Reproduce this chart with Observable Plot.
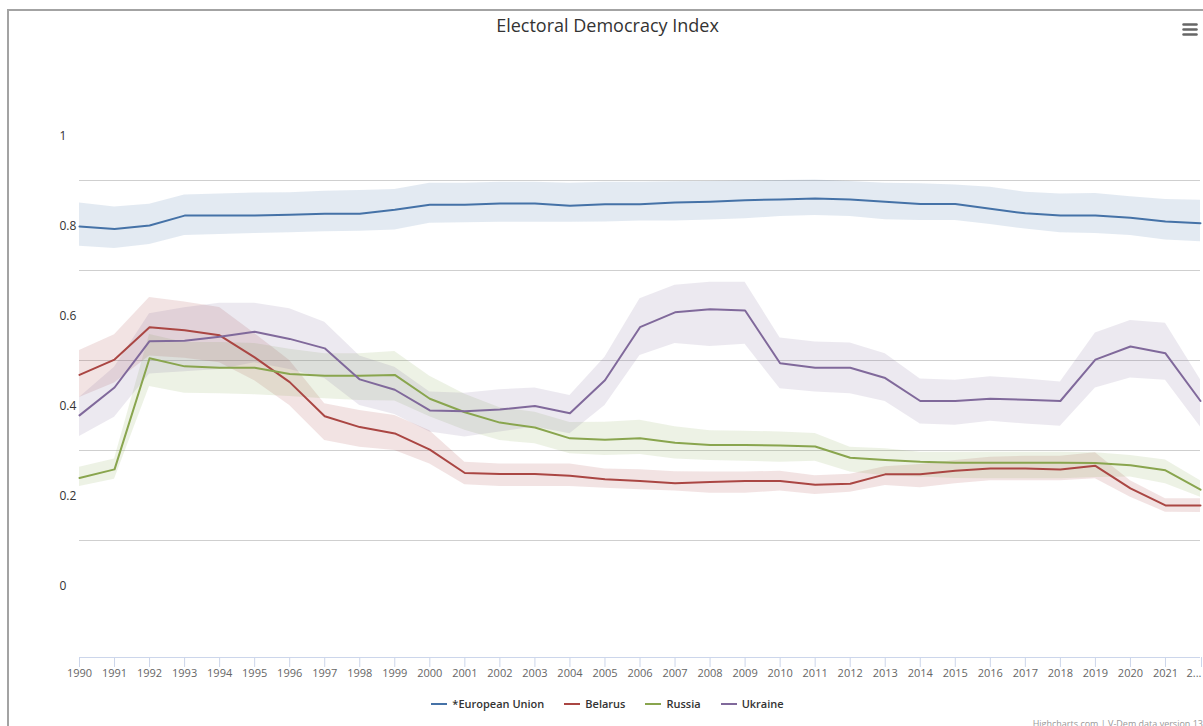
<!DOCTYPE html>
<html>
<head>
<meta charset="utf-8">
<script src="https://cdn.jsdelivr.net/npm/d3@7"></script>
<script src="https://cdn.jsdelivr.net/npm/@observablehq/plot@0.6"></script>
<style>
  html, body { margin: 0; padding: 0; background: #fff; }
  body { position: relative; width: 1203px; height: 726px; overflow: hidden; font-family: "Open Sans", "DejaVu Sans", sans-serif; }
  #frame { position: absolute; left: 7px; top: 9px; width: 1230px; height: 800px; border: 2px solid #a3a3a3; box-sizing: border-box; }
  #title { position: absolute; left: 0; top: 12px; width: 1215px; text-align: center; font-size: 18px; line-height: 26px; color: #333; }
  #menu { position: absolute; left: 1182px; top: 23px; width: 16px; height: 14px; }
  #chart { position: absolute; left: 0; top: 45px; }
  #legend { position: absolute; left: 0; top: 694px; width: 1215px; display: flex; justify-content: center; gap: 20px; font-size: 11px; font-weight: 600; line-height: 20px; color: #333; }
  #legend .item { display: flex; align-items: center; }
  #legend .sym { width: 16px; height: 2px; margin-right: 5px; }
  #credits { position: absolute; left: 0; top: 718px; width: 1203px; text-align: right; font-size: 9px; line-height: 12px; color: #999; }
</style>
</head>
<body>
<div id="frame"></div>
<div id="title">Electoral Democracy Index</div>
<svg id="menu" width="16" height="14"><g stroke="#666" stroke-width="2.5" stroke-linecap="round"><line x1="1.5" y1="1.5" x2="14.5" y2="1.5"/><line x1="1.5" y1="6.5" x2="14.5" y2="6.5"/><line x1="1.5" y1="11.5" x2="14.5" y2="11.5"/></g></svg>
<div id="chart"></div>
<div id="legend"></div>
<div id="credits">Highcharts.com | V-Dem data version 13</div>
<script>
const years = [1990,1991,1992,1993,1994,1995,1996,1997,1998,1999,2000,2001,2002,2003,2004,2005,2006,2007,2008,2009,2010,2011,2012,2013,2014,2015,2016,2017,2018,2019,2020,2021,2022];
const xTickLabels = ["1990","1991","1992","1993","1994","1995","1996","1997","1998","1999","2000","2001","2002","2003","2004","2005","2006","2007","2008","2009","2010","2011","2012","2013","2014","2015","2016","2017","2018","2019","2020","2021","2..."];
const yTickValues = [0, 0.2, 0.4, 0.6, 0.8, 1];
const yTickLabels = ["0", "0.2", "0.4", "0.6", "0.8", "1"];
const gridValues = [0.1, 0.3, 0.5, 0.7, 0.9];

const seriesNames = ["*European Union", "Belarus", "Russia", "Ukraine"];
const seriesColors = ["#4572A7", "#AA4643", "#89A54E", "#80699B"];

const euValue = [0.798,0.792,0.800,0.822,0.822,0.822,0.824,0.826,0.826,0.835,0.846,0.846,0.849,0.849,0.844,0.847,0.847,0.851,0.853,0.856,0.858,0.860,0.858,0.853,0.848,0.848,0.837,0.827,0.822,0.822,0.817,0.809,0.805];
const euLow   = [0.754,0.749,0.758,0.778,0.780,0.782,0.784,0.786,0.787,0.790,0.805,0.806,0.807,0.807,0.807,0.808,0.810,0.810,0.812,0.815,0.820,0.822,0.820,0.813,0.811,0.811,0.802,0.792,0.784,0.782,0.778,0.768,0.764];
const euHigh  = [0.850,0.841,0.847,0.868,0.870,0.872,0.873,0.876,0.878,0.880,0.894,0.894,0.896,0.896,0.894,0.896,0.896,0.897,0.898,0.899,0.900,0.901,0.898,0.894,0.893,0.890,0.885,0.874,0.870,0.871,0.864,0.858,0.856];

const belarusValue = [0.468,0.502,0.574,0.567,0.556,0.507,0.452,0.376,0.352,0.338,0.302,0.250,0.248,0.248,0.244,0.236,0.232,0.227,0.230,0.232,0.232,0.224,0.226,0.247,0.247,0.255,0.260,0.260,0.258,0.266,0.216,0.178,0.178];
const belarusLow   = [0.418,0.450,0.510,0.505,0.495,0.455,0.400,0.322,0.307,0.300,0.270,0.224,0.220,0.220,0.220,0.216,0.213,0.210,0.205,0.205,0.210,0.202,0.207,0.222,0.217,0.226,0.233,0.233,0.233,0.237,0.196,0.163,0.162];
const belarusHigh  = [0.522,0.557,0.640,0.630,0.618,0.560,0.500,0.404,0.389,0.378,0.344,0.274,0.270,0.270,0.270,0.259,0.257,0.253,0.252,0.252,0.254,0.244,0.247,0.264,0.269,0.278,0.285,0.287,0.287,0.295,0.233,0.193,0.193];

const russiaValue = [0.239,0.258,0.505,0.487,0.484,0.484,0.470,0.466,0.466,0.468,0.415,0.385,0.362,0.351,0.327,0.324,0.327,0.317,0.312,0.312,0.311,0.309,0.284,0.279,0.275,0.273,0.273,0.273,0.273,0.272,0.267,0.256,0.213];
const russiaLow   = [0.220,0.236,0.442,0.427,0.426,0.424,0.420,0.415,0.411,0.410,0.375,0.345,0.322,0.315,0.293,0.289,0.291,0.281,0.278,0.276,0.274,0.276,0.252,0.244,0.241,0.238,0.237,0.237,0.237,0.240,0.241,0.226,0.196];
const russiaHigh  = [0.263,0.281,0.558,0.540,0.540,0.538,0.525,0.515,0.515,0.520,0.465,0.425,0.395,0.385,0.362,0.363,0.367,0.353,0.344,0.343,0.341,0.338,0.307,0.304,0.296,0.296,0.296,0.296,0.296,0.295,0.289,0.279,0.233];

const ukraineValue = [0.378,0.440,0.543,0.544,0.553,0.564,0.548,0.527,0.458,0.435,0.389,0.387,0.391,0.399,0.383,0.456,0.574,0.607,0.614,0.611,0.494,0.484,0.484,0.461,0.410,0.410,0.415,0.413,0.410,0.502,0.531,0.516,0.410];
const ukraineLow   = [0.331,0.374,0.470,0.475,0.480,0.495,0.480,0.460,0.400,0.380,0.341,0.330,0.341,0.352,0.337,0.400,0.511,0.538,0.531,0.536,0.437,0.430,0.426,0.409,0.359,0.356,0.365,0.359,0.354,0.439,0.461,0.456,0.352];
const ukraineHigh  = [0.418,0.485,0.604,0.617,0.627,0.627,0.615,0.585,0.510,0.485,0.430,0.427,0.435,0.439,0.422,0.507,0.637,0.667,0.674,0.674,0.550,0.541,0.539,0.515,0.459,0.456,0.464,0.459,0.452,0.561,0.589,0.583,0.457];

const seriesValues = [euValue, belarusValue, russiaValue, ukraineValue];
const seriesLows = [euLow, belarusLow, russiaLow, ukraineLow];
const seriesHighs = [euHigh, belarusHigh, russiaHigh, ukraineHigh];

const rows = [];
seriesNames.forEach((name, s) => {
  years.forEach((year, i) => {
    rows.push({series: name, year, v: seriesValues[s][i], lo: seriesLows[s][i], hi: seriesHighs[s][i]});
  });
});

const colorScale = {domain: seriesNames, range: seriesColors};
const lastYear = years[years.length - 1];
const mainTicks = years.slice(0, -1);

const chart = Plot.plot({
  width: 1203,
  height: 645,
  marginLeft: 79,
  marginRight: 3,
  marginTop: 0,
  marginBottom: 33,
  style: {fontFamily: "'Open Sans', 'DejaVu Sans', sans-serif", background: "transparent", overflow: "visible"},
  x: {domain: [1990, 2022], label: null},
  y: {domain: [-0.16, 1.2], axis: null},
  color: colorScale,
  marks: [
    Plot.ruleY(gridValues, {stroke: "#cfcfcf", strokeWidth: 1.2}),
    Plot.ruleY([-0.16], {stroke: "#ccd6eb", strokeWidth: 1}),
    Plot.axisX({
      ticks: mainTicks,
      tickFormat: d => xTickLabels[years.indexOf(d)],
      tickSize: 10,
      tickPadding: 1.5,
      stroke: "#ccd6eb",
      fill: "#666",
      fontSize: 11,
      label: null
    }),
    Plot.axisX({
      ticks: [lastYear],
      tickFormat: d => xTickLabels[years.indexOf(d)],
      tickSize: 10,
      tickPadding: 1.5,
      stroke: "#ccd6eb",
      fill: "#666",
      fontSize: 11,
      textAnchor: "end",
      dx: 1,
      label: null
    }),
    Plot.text(yTickValues, {
      y: d => d,
      text: (d, i) => yTickLabels[i],
      frameAnchor: "left",
      textAnchor: "start",
      dx: -20,
      dy: 1,
      fontSize: 12,
      fill: "#333"
    }),
    Plot.areaY(rows, {x: "year", y1: "lo", y2: "hi", z: "series", fill: "series", fillOpacity: 0.15, curve: "linear"}),
    Plot.lineY(rows, {x: "year", y: "v", z: "series", stroke: "series", strokeWidth: 2})
  ]
});
document.getElementById("chart").appendChild(chart);

const legend = document.getElementById("legend");
seriesNames.forEach((name, i) => {
  const item = document.createElement("div");
  item.className = "item";
  const sym = document.createElement("span");
  sym.className = "sym";
  sym.style.background = seriesColors[i];
  const label = document.createElement("span");
  label.textContent = name;
  item.appendChild(sym);
  item.appendChild(label);
  legend.appendChild(item);
});
</script>
</body>
</html>
